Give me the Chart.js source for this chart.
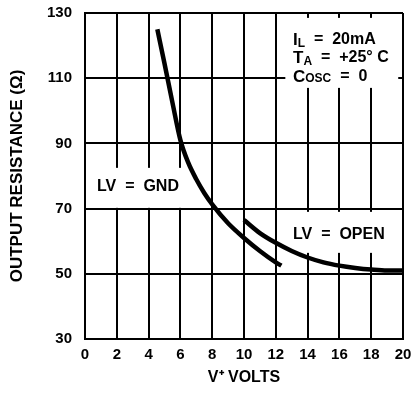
<!DOCTYPE html>
<html>
<head>
<meta charset="utf-8">
<script src="https://cdn.jsdelivr.net/npm/chart.js@4/dist/chart.umd.min.js"></script>
<style>
  html, body { margin: 0; padding: 0; background: #fff; }
  #wrap { width: 413px; height: 404px; }
</style>
</head>
<body>
<div id="wrap"><canvas id="res-chart"></canvas></div>
<script>
const gndVolts = [4.55, 5, 5.5, 6, 6.5, 7, 7.5, 8, 9, 10, 11, 12, 12.35];
const gndOhms  = [125, 114.5, 102.5, 91, 84, 79, 74.8, 71.3, 65.5, 61, 57, 53.5, 52.5];

const openVolts = [10, 11, 12, 13, 14, 15, 16, 17, 18, 19, 20];
const openOhms  = [66.5, 62.5, 59.5, 57, 55, 53.5, 52.5, 51.8, 51.3, 51, 51];

const voltTicks = [0, 2, 4, 6, 8, 10, 12, 14, 16, 18, 20];
const ohmTicks  = [30, 50, 70, 90, 110, 130];

const FONT = '"Liberation Sans", Arial, sans-serif';

function toPoints(xs, ys) {
  return xs.map((x, i) => ({ x: x, y: ys[i] }));
}

// draws a line of text made of [text, size, dy] pieces
function drawPieces(ctx, x, y, pieces) {
  pieces.forEach(p => {
    ctx.font = 'bold ' + p[1] + 'px ' + FONT;
    ctx.fillText(p[0], x, y + (p[2] || 0));
    x += ctx.measureText(p[0]).width;
  });
}

function noEdgePad(s) {
  s.paddingLeft = 0;
  s.paddingRight = 0;
  s.paddingTop = 0;
  s.paddingBottom = 0;
}

const notes = {
  id: 'notes',
  beforeDatasetsDraw(chart) {
    const ctx = chart.ctx;
    const xs = chart.scales.x, ys = chart.scales.y;
    ctx.save();
    // white patches that break the grid behind the labels
    ctx.fillStyle = '#fff';
    ctx.fillRect(xs.getPixelForValue(0.2), ys.getPixelForValue(82.5), xs.getPixelForValue(6.3) - xs.getPixelForValue(0.2), 40);
    ctx.fillRect(xs.getPixelForValue(12.6), ys.getPixelForValue(69), xs.getPixelForValue(19.8) - xs.getPixelForValue(12.6), 41);
    ctx.fillRect(xs.getPixelForValue(12.6), ys.getPixelForValue(128.5), xs.getPixelForValue(19.7) - xs.getPixelForValue(12.6), 70);

    ctx.fillStyle = '#000';
    ctx.textBaseline = 'middle';
    ctx.textAlign = 'left';
    drawPieces(ctx, 97, 187, [['LV  =  GND', 16]]);
    drawPieces(ctx, 293, 235, [['LV  =  OPEN', 16]]);
    drawPieces(ctx, 293, 40, [['I', 17], ['L', 12, 4], ['  =  20mA', 16]]);
    drawPieces(ctx, 293, 58, [['T', 17], ['A', 12, 4], ['  =  +25° C', 16]]);
    drawPieces(ctx, 293, 77, [['C', 17], ['OSC', 12, 2], ['  =  0', 16]]);
    ctx.restore();
  }
};

const config = {
  type: 'scatter',
  data: {
    datasets: [
      {
        label: 'LV = GND',
        data: toPoints(gndVolts, gndOhms),
        showLine: true,
        borderColor: '#000',
        borderWidth: 4.5,
        pointRadius: 0,
        cubicInterpolationMode: 'monotone'
      },
      {
        label: 'LV = OPEN',
        data: toPoints(openVolts, openOhms),
        showLine: true,
        borderColor: '#000',
        borderWidth: 4.5,
        pointRadius: 0,
        cubicInterpolationMode: 'monotone'
      }
    ]
  },
  options: {
    responsive: true,
    maintainAspectRatio: false,
    animation: false,
    layout: { padding: { left: 0, top: 13, right: 10, bottom: 0 } },
    plugins: {
      legend: { display: false },
      tooltip: { enabled: false }
    },
    scales: {
      x: {
        type: 'linear',
        min: 0,
        max: 20,
        afterBuildTicks: s => { s.ticks = voltTicks.map(v => ({ value: v })); },
        afterFit: s => { s.height = 65; noEdgePad(s); },
        grid: { color: '#000', lineWidth: 2, drawTicks: false },
        border: { color: '#000', width: 2 },
        ticks: { color: '#000', padding: 7, maxRotation: 0, font: { family: FONT, size: 15, weight: 'bold' } },
        title: {
          display: true,
          text: 'V⁺ VOLTS',
          color: '#000',
          padding: 17,
          font: { family: FONT, size: 16, weight: 'bold' }
        }
      },
      y: {
        type: 'linear',
        min: 30,
        max: 130,
        afterBuildTicks: s => { s.ticks = ohmTicks.map(v => ({ value: v })); },
        afterFit: s => { s.width = 85; noEdgePad(s); },
        grid: { color: '#000', lineWidth: 2, drawTicks: false },
        border: { color: '#000', width: 2 },
        ticks: { color: '#000', padding: 13, font: { family: FONT, size: 15, weight: 'bold' } },
        title: {
          display: true,
          text: 'OUTPUT RESISTANCE (Ω)',
          color: '#000',
          padding: 7,
          font: { family: FONT, size: 17, weight: 'bold' }
        }
      }
    }
  },
  plugins: [notes]
};

const resChart = new Chart(document.getElementById('res-chart'), config);
</script>
</body>
</html>
